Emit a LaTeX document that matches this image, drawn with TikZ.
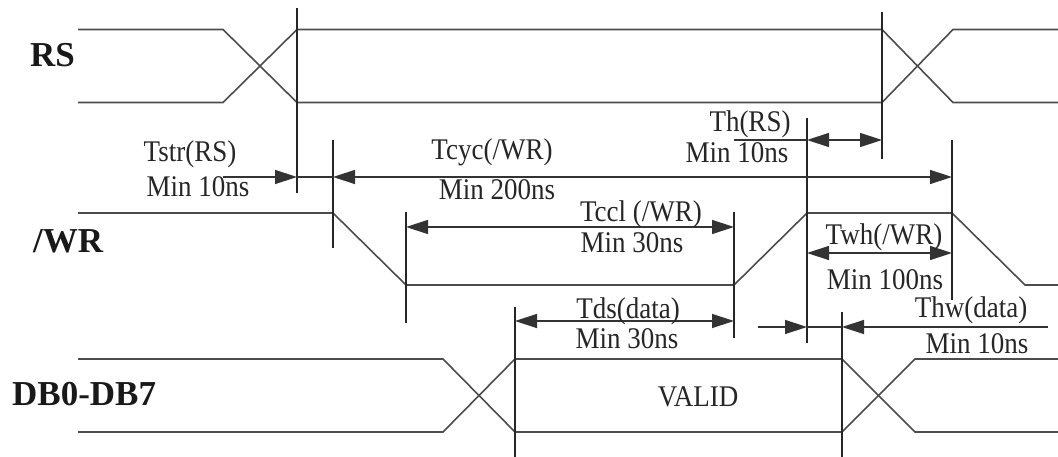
\documentclass[tikz,border=0pt]{standalone}
\usepackage{fontspec}
\setmainfont{Liberation Serif}
\usetikzlibrary{arrows.meta}
\begin{document}
\begin{tikzpicture}[x=1pt,y=-1pt,
  >={Triangle[length=22pt,width=14pt]},
  sig/.style={draw=black!70, line width=1.6pt, line join=miter},
  tick/.style={draw=black!85, line width=1.4pt},
  dim/.style={draw=black!80, line width=1.4pt},
  lbl/.style={font=\fontsize{35}{40}\selectfont\bfseries, anchor=base west, inner sep=0pt, text=black!90},
  ann/.style={font=\fontsize{30}{34}\selectfont, anchor=base, inner sep=0pt, text=black!85, xscale=0.9}]
\useasboundingbox (0,0) rectangle (1058,457);
% signal labels
\node[lbl] (rs) at (30,67) {RS};
\node[lbl] (wr) at (33,253) {/WR};
\node[lbl] (db) at (12,405) {DB0-DB7};
% RS
\draw[sig] (78,29.5) -- (223,29.5) -- (297,102.5) -- (882,102.5) -- (953,29.5) -- (1058,29.5);
\draw[sig] (78,102.5) -- (223,102.5) -- (297,29.5) -- (882,29.5) -- (953,102.5) -- (1058,102.5);
% /WR
\draw[sig] (78,213) -- (333,213) -- (406,285) -- (734,285) -- (807,213) -- (952,213) -- (1025,285) -- (1058,285);
% DB
\draw[sig] (78,359) -- (443,359) -- (515,432) -- (842,432) -- (915,359) -- (1058,359);
\draw[sig] (78,432) -- (443,432) -- (515,359) -- (842,359) -- (915,432) -- (1058,432);
% vertical reference lines
\coordinate (a1) at (297,8);   \coordinate (a2) at (297,193);
\coordinate (b1) at (333,140); \coordinate (b2) at (333,248);
\coordinate (c1) at (406,212); \coordinate (c2) at (406,323);
\coordinate (d1) at (734,212); \coordinate (d2) at (734,338);
\coordinate (e1) at (515,307); \coordinate (e2) at (515,457);
\coordinate (f1) at (807,118); \coordinate (f2) at (807,343);
\coordinate (g1) at (882,12);  \coordinate (g2) at (882,159);
\coordinate (h1) at (952,140); \coordinate (h2) at (952,300);
\coordinate (k1) at (842,312); \coordinate (k2) at (842,457);
\foreach \p in {a,b,c,d,e,f,g,h,k} \draw[tick] (\p1) -- (\p2);
% dimension arrows
\draw[dim,->] (223,177) -- (a1 |- 0,177);
\draw[dim] (a1 |- 0,177) -- (b1 |- 0,177);
\draw[dim,<->] (b1 |- 0,177) -- (h1 |- 0,177);
\draw[dim] (734,140) -- (f1 |- 0,140);
\draw[dim,<->] (f1 |- 0,140) -- (g1 |- 0,140);
\draw[dim,<->] (c1 |- 0,227) -- (d1 |- 0,227);
\draw[dim,<->] (e1 |- 0,321) -- (d1 |- 0,321);
\draw[dim,<->] (f1 |- 0,253) -- (h1 |- 0,253);
\draw[dim,->] (758,327) -- (f1 |- 0,327);
\draw[dim] (f1 |- 0,327) -- (k1 |- 0,327);
\draw[dim,->] (1048,327) -- (k1 |- 0,327);
% annotations
\node[ann] (tstr) at (190,162) {Tstr(RS)};
\node[ann] (tstrm) at (198,197) {Min 10ns};
\node[ann] (tcyc) at (492,160) {Tcyc(/WR)};
\node[ann] (tcycm) at (497,200) {Min 200ns};
\node[ann] (th) at (750,132) {Th(RS)};
\node[ann] (thm) at (737,163) {Min 10ns};
\node[ann] (tccl) at (641,222) {Tccl (/WR)};
\node[ann] (tcclm) at (632,253) {Min 30ns};
\node[ann] (tds) at (628,319) {Tds(data)};
\node[ann] (tdsm) at (627,348) {Min 30ns};
\node[ann] (twh) at (884,245) {Twh(/WR)};
\node[ann] (twhm) at (885,290) {Min 100ns};
\node[ann] (thw) at (971,317) {Thw(data)};
\node[ann] (thwm) at (977,353) {Min 10ns};
\node[ann] (valid) at (698,406) {VALID};
\end{tikzpicture}
\end{document}
